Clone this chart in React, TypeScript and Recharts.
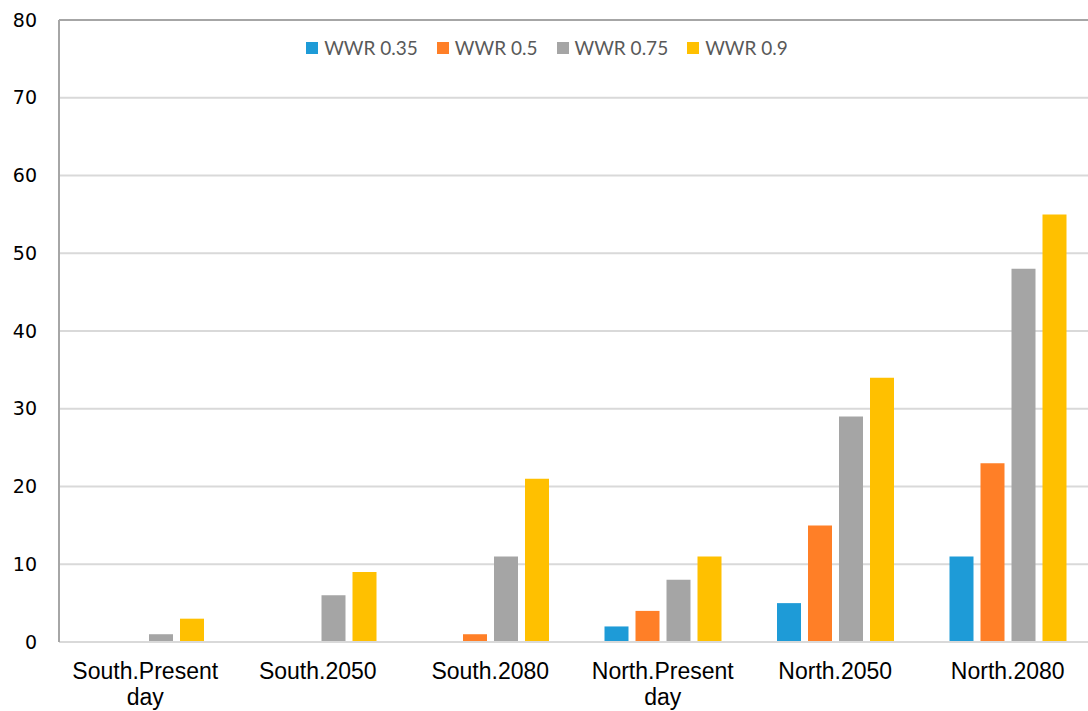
import { BarChart, Bar, XAxis, YAxis, CartesianGrid, Legend, ReferenceLine } from "recharts";

const categories = [
  "South.Present day",
  "South.2050",
  "South.2080",
  "North.Present day",
  "North.2050",
  "North.2080",
];
const wwr035 = [0, 0, 0, 2, 5, 11];
const wwr05 = [0, 0, 1, 4, 15, 23];
const wwr075 = [1, 6, 11, 8, 29, 48];
const wwr09 = [3, 9, 21, 11, 34, 55];
const yTicks = [0, 10, 20, 30, 40, 50, 60, 70, 80];

const series = [
  { key: "wwr035", name: "WWR 0.35", color: "#1E9BD7" },
  { key: "wwr05", name: "WWR 0.5", color: "#FF7F27" },
  { key: "wwr075", name: "WWR 0.75", color: "#A5A5A5" },
  { key: "wwr09", name: "WWR 0.9", color: "#FFC000" },
];

const data = categories.map((c, i) => ({
  name: c,
  wwr035: wwr035[i],
  wwr05: wwr05[i],
  wwr075: wwr075[i],
  wwr09: wwr09[i],
}));

function CategoryTick(props: any) {
  const { x, y, payload } = props;
  const lines = String(payload.value).split(" ");
  return (
    <text
      x={x}
      y={y}
      textAnchor="middle"
      fill="#000"
      fontSize={23}
      fontFamily="'Liberation Sans', Arial, sans-serif"
    >
      {lines.map((l, i) => (
        <tspan key={i} x={x} dy={i === 0 ? 29 : 26}>
          {l}
        </tspan>
      ))}
    </text>
  );
}

function LegendContent() {
  return (
    <div
      style={{
        display: "flex",
        justifyContent: "center",
        gap: 19,
        fontFamily: "Lato, 'Open Sans', sans-serif",
        fontSize: 19,
        color: "#595959",
        lineHeight: "24px",
      }}
    >
      {series.map((s) => (
        <div key={s.key} style={{ display: "flex", alignItems: "center" }}>
          <span
            style={{
              display: "inline-block",
              width: 12,
              height: 12,
              background: s.color,
              marginRight: 6,
            }}
          />
          {s.name}
        </div>
      ))}
    </div>
  );
}

export default function App() {
  return (
    <div
      style={{
        position: "absolute",
        left: 0,
        top: 0,
        width: 1088,
        height: 711,
        overflow: "hidden",
        background: "#fff",
      }}
    >
      <BarChart
        width={1100}
        height={711}
        data={data}
        margin={{ top: 20, right: 6, left: 0, bottom: 0 }}
        barGap={7}
        barSize={24}
      >
        <CartesianGrid vertical={false} stroke="#d9d9d9" strokeWidth={2} />
        <ReferenceLine y={80} stroke="#a6a6a6" strokeWidth={2} />
        <XAxis
          dataKey="name"
          height={69}
          interval={0}
          tickLine={false}
          axisLine={{ stroke: "#d9d9d9", strokeWidth: 2 }}
          tick={<CategoryTick />}
        />
        <YAxis
          width={59}
          domain={[0, 80]}
          ticks={yTicks}
          tickLine={false}
          tickSize={0}
          tickMargin={22}
          axisLine={{ stroke: "#a6a6a6", strokeWidth: 2 }}
          tick={{ fill: "#000", fontSize: 19, fontFamily: "'DejaVu Sans', sans-serif" }}
        />
        <Legend
          verticalAlign="middle"
          align="center"
          content={<LegendContent />}
          wrapperStyle={{ top: 36, left: 0, width: 1094 }}
        />
        {series.map((s) => (
          <Bar key={s.key} dataKey={s.key} name={s.name} fill={s.color} isAnimationActive={false} />
        ))}
      </BarChart>
    </div>
  );
}
